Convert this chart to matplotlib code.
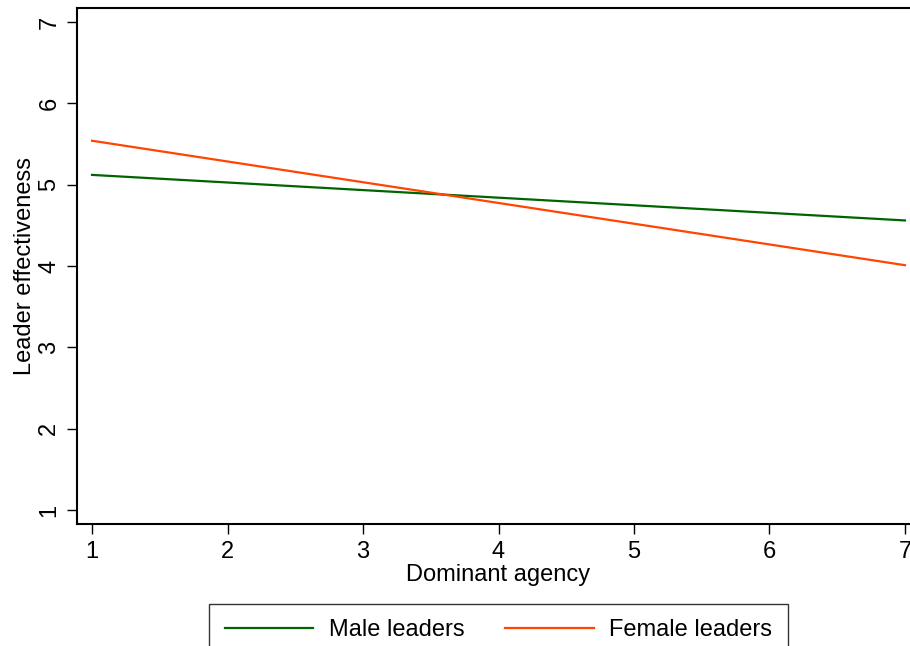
import matplotlib.pyplot as plt

plt.rcParams['font.family'] = ['Liberation Sans', 'DejaVu Sans']

# fitted line end points
agency = [1, 7]
male = [5.12, 4.56]
female = [5.54, 4.01]
xticks = [1, 2, 3, 4, 5, 6, 7]
yticks = [1, 2, 3, 4, 5, 6, 7]

W, H = 910, 646
fig = plt.figure(figsize=(W / 100, H / 100), dpi=100)
# axes runs a bit past the right edge, like the cropped original
ax = fig.add_axes([77 / W, 1 - 524 / H, (920 - 77) / W, (524 - 8) / H])

ax.plot(agency, male, color='#006400', lw=1.6, label='Male leaders')
ax.plot(agency, female, color='#FF4500', lw=1.6, label='Female leaders')

ax.set_xlim(0.889, 7.111)
ax.set_ylim(0.828, 7.172)
ax.set_xticks(xticks)
ax.set_yticks(yticks)
ax.tick_params(axis='both', direction='out', length=7, width=1, labelsize=17, colors='black')
ax.tick_params(axis='x', pad=5)
ax.tick_params(axis='y', pad=5)
for lab in ax.get_yticklabels():
    lab.set_rotation(90)
    lab.set_va('center')

for s in ['left', 'bottom', 'top']:
    ax.spines[s].set_linewidth(1.5)
ax.spines['right'].set_visible(False)

ax.set_xlabel('Dominant agency', fontsize=17, labelpad=1)
ax.set_ylabel('Leader effectiveness', fontsize=17, labelpad=2)

leg = fig.legend(loc='upper center', bbox_to_anchor=(498.5 / W, 1 - 604 / H), ncol=2,
                 fontsize=17, frameon=True, fancybox=False, edgecolor='black',
                 handlelength=3.75, columnspacing=1.75, handletextpad=0.65,
                 borderpad=0.65, borderaxespad=0)
leg.get_frame().set_linewidth(1.0)

fig.savefig('out.png', dpi=100)
